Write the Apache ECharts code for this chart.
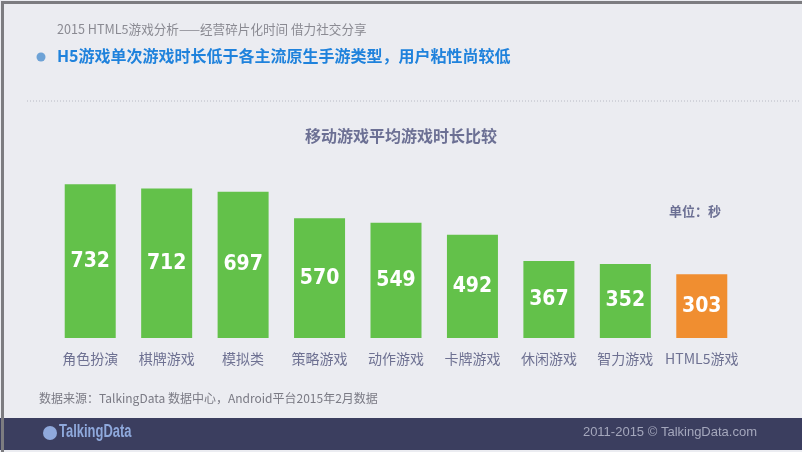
<!DOCTYPE html>
<html><head><meta charset="utf-8">
<script src="https://cdn.jsdelivr.net/npm/echarts@6/dist/echarts.min.js"></script>
<style>html,body{margin:0;padding:0;background:#ebecf1;}#c{width:802px;height:452px;}</style>
</head><body><div id="c"></div>
<script>
var categories = ['角色扮演','棋牌游戏','模拟类','策略游戏','动作游戏','卡牌游戏','休闲游戏','智力游戏','HTML5游戏'];
var values = [732, 712, 697, 570, 549, 492, 367, 352, 303];
var highlightCategory = 'HTML5游戏';

var chart = echarts.init(document.getElementById('c'), null, {renderer:'canvas'});
var data = values.map(function(v,i){
  return {value:v, itemStyle:{color: categories[i]===highlightCategory ? '#f08e30' : '#63c14a'}};
});
var cjk = '"Noto Sans CJK SC", "Microsoft YaHei", sans-serif';
chart.setOption({
  backgroundColor:'#ebecf1',
  animation:false,
  title:{text:'移动游戏平均游戏时长比较', left:'center', top:123,
    textStyle:{fontFamily:cjk, fontSize:16, fontWeight:'bold', color:'#6c7094'}},
  grid:{left:52, right:62, top:170, bottom:114},
  xAxis:{type:'category', data:categories, axisLine:{show:false}, axisTick:{show:false},
    axisLabel:{interval:0, margin:14, fontFamily:cjk, fontSize:14, color:'#6e7192'}},
  yAxis:{type:'value', min:0, max:800, show:false, splitLine:{show:false}},
  series:[{type:'bar', data:data, barWidth:51,
    label:{show:true, position:'inside', color:'#ffffff', fontSize:21, fontWeight:'bold',
      fontFamily:'"Liberation Sans Narrow", "DejaVu Sans Condensed", "Liberation Sans", sans-serif'}}],
  graphic:[
    {type:'rect', left:0, top:0, shape:{width:802, height:452}, style:{fill:'none', stroke:'#7c7c80', lineWidth:3}, z:100},
    {type:'rect', left:0, top:418, shape:{width:802, height:32}, style:{fill:'#3b3e5f'}},
    {type:'text', left:57, top:23, style:{text:'2015 HTML5游戏分析——经营碎片化时间 借力社交分享', font:'12.6px '+cjk, fill:'#8a8a92'}},
    {type:'circle', shape:{cx:41, cy:57, r:4.5}, style:{fill:'#6da2d6'}},
    {type:'text', left:57, top:48, style:{text:'H5游戏单次游戏时长低于各主流原生手游类型，用户粘性尚较低', font:'bold 16px '+cjk, fill:'#1f82dc'}},
    {type:'line', shape:{x1:27, y1:101, x2:800, y2:101}, style:{stroke:'#b8bac4', lineWidth:1, lineDash:[1,2]}},
    {type:'text', left:669, top:205, style:{text:'单位：秒', font:'bold 13px '+cjk, fill:'#6c7094'}},
    {type:'text', left:39, top:392, style:{text:'数据来源：TalkingData 数据中心，Android平台2015年2月数据', font:'12px '+cjk, fill:'#7a7a84'}},
    {type:'circle', shape:{cx:50, cy:433, r:7}, style:{fill:'#8fa9dc'}},
    {type:'text', x:59, y:423, scaleX:0.72, style:{text:'TalkingData', font:'bold 18px "Liberation Sans", sans-serif', fill:'#8fa9dc'}},
    {type:'text', right:45, top:426, style:{text:'2011-2015 © TalkingData.com', font:'13px "Liberation Sans", Arial, sans-serif', fill:'#a4a7bc'}}
  ]
});
</script></body></html>
